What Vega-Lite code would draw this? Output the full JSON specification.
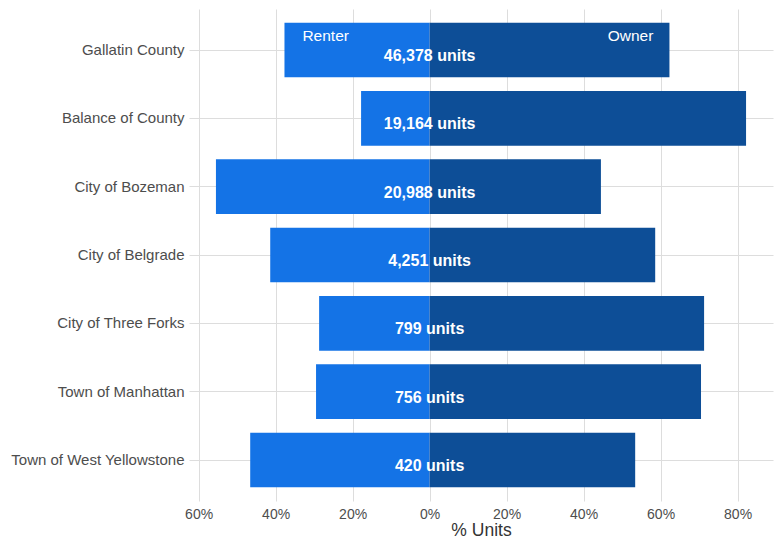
{
  "$schema": "https://vega.github.io/schema/vega-lite/v6.json",
  "autosize": {"type": "none"},
  "width": 584,
  "height": 492,
  "padding": {"left": 189, "top": 9, "right": 5, "bottom": 38},
  "background": "white",
  "config": {
    "view": {"stroke": null},
    "font": "Liberation Sans"
  },
  "datasets": {
    "bars": [
      {"geo": "Gallatin County", "tenure": "Renter", "pct": -0.377},
      {"geo": "Gallatin County", "tenure": "Owner", "pct": 0.623},
      {"geo": "Balance of County", "tenure": "Renter", "pct": -0.178},
      {"geo": "Balance of County", "tenure": "Owner", "pct": 0.822},
      {"geo": "City of Bozeman", "tenure": "Renter", "pct": -0.555},
      {"geo": "City of Bozeman", "tenure": "Owner", "pct": 0.445},
      {"geo": "City of Belgrade", "tenure": "Renter", "pct": -0.414},
      {"geo": "City of Belgrade", "tenure": "Owner", "pct": 0.586},
      {"geo": "City of Three Forks", "tenure": "Renter", "pct": -0.287},
      {"geo": "City of Three Forks", "tenure": "Owner", "pct": 0.713},
      {"geo": "Town of Manhattan", "tenure": "Renter", "pct": -0.295},
      {"geo": "Town of Manhattan", "tenure": "Owner", "pct": 0.705},
      {"geo": "Town of West Yellowstone", "tenure": "Renter", "pct": -0.466},
      {"geo": "Town of West Yellowstone", "tenure": "Owner", "pct": 0.534}
    ],
    "units": [
      {"geo": "Gallatin County", "label": "46,378 units", "x": 0},
      {"geo": "Balance of County", "label": "19,164 units", "x": 0},
      {"geo": "City of Bozeman", "label": "20,988 units", "x": 0},
      {"geo": "City of Belgrade", "label": "4,251 units", "x": 0},
      {"geo": "City of Three Forks", "label": "799 units", "x": 0},
      {"geo": "Town of Manhattan", "label": "756 units", "x": 0},
      {"geo": "Town of West Yellowstone", "label": "420 units", "x": 0}
    ],
    "keys": [
      {"geo": "Gallatin County", "label": "Renter", "x": -0.27},
      {"geo": "Gallatin County", "label": "Owner", "x": 0.522}
    ]
  },
  "layer": [
    {
      "data": {"name": "bars"},
      "mark": {"type": "bar", "opacity": 1},
      "encoding": {
        "y": {
          "field": "geo", "type": "nominal",
          "sort": ["Gallatin County", "Balance of County", "City of Bozeman", "City of Belgrade", "City of Three Forks", "Town of Manhattan", "Town of West Yellowstone"],
          "scale": {"paddingInner": 0.2, "paddingOuter": 0.2},
          "axis": {
            "title": null, "domain": false, "ticks": false,
            "labelFontSize": 15, "labelColor": "#4D4D4D", "labelPadding": 5,
            "grid": true, "gridColor": "#DDDDDD", "gridWidth": 1, "bandPosition": 0.5
          }
        },
        "x": {
          "field": "pct", "type": "quantitative",
          "scale": {"domain": [-0.625, 0.892], "nice": false, "zero": false},
          "axis": {
            "title": "% Units", "titleFontSize": 17.5, "titleFontWeight": "normal", "titleColor": "#333333", "titlePadding": 0,
            "values": [-0.6, -0.4, -0.2, 0, 0.2, 0.4, 0.6, 0.8],
            "labelExpr": "format(abs(datum.value), '.0%')",
            "labelFontSize": 14, "labelColor": "#4D4D4D", "labelPadding": 6,
            "domain": false, "ticks": false,
            "grid": true, "gridColor": "#DDDDDD", "gridWidth": 1
          }
        },
        "color": {
          "field": "tenure", "type": "nominal",
          "scale": {"domain": ["Renter", "Owner"], "range": ["#1473E6", "#0D4E97"]},
          "legend": null
        }
      }
    },
    {
      "data": {"name": "units"},
      "mark": {"type": "text", "color": "white", "fontWeight": "bold", "fontSize": 16, "baseline": "middle", "align": "center", "dy": 6},
      "encoding": {
        "y": {"field": "geo", "type": "nominal", "sort": ["Gallatin County", "Balance of County", "City of Bozeman", "City of Belgrade", "City of Three Forks", "Town of Manhattan", "Town of West Yellowstone"]},
        "x": {"field": "x", "type": "quantitative"},
        "text": {"field": "label"}
      }
    },
    {
      "data": {"name": "keys"},
      "mark": {"type": "text", "color": "white", "fontSize": 15.5, "baseline": "middle", "align": "center", "dy": -14},
      "encoding": {
        "y": {"field": "geo", "type": "nominal", "sort": ["Gallatin County", "Balance of County", "City of Bozeman", "City of Belgrade", "City of Three Forks", "Town of Manhattan", "Town of West Yellowstone"]},
        "x": {"field": "x", "type": "quantitative"},
        "text": {"field": "label"}
      }
    }
  ]
}
